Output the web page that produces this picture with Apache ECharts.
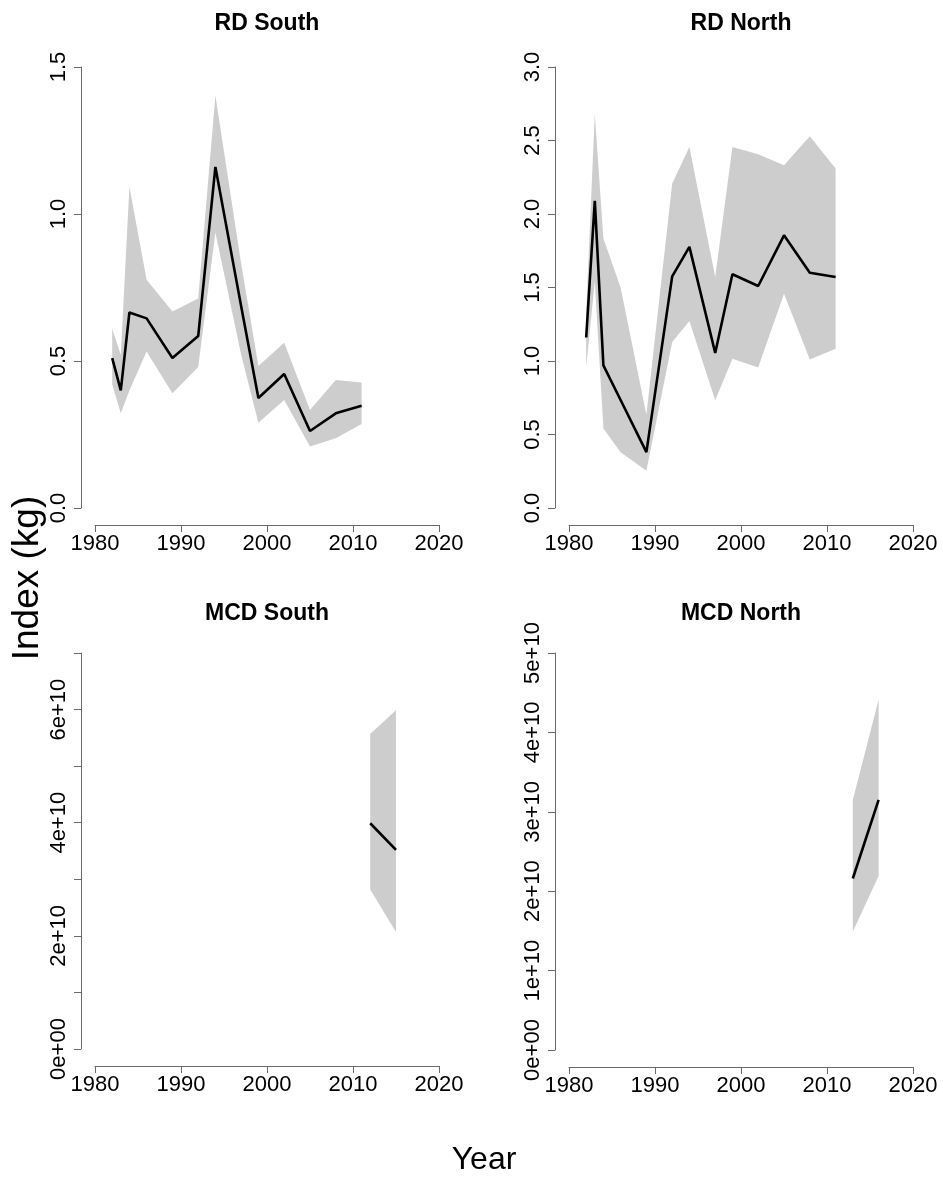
<!DOCTYPE html>
<html>
<head>
<meta charset="utf-8">
<script src="https://cdn.jsdelivr.net/npm/echarts@6/dist/echarts.min.js"></script>
<style>
html,body{margin:0;padding:0;background:#fff;}
#chart{width:943px;height:1180px;}
</style>
</head>
<body>
<div id="chart"></div>
<script>
// ---- data ----
const panelTitles = ["RD South", "RD North", "MCD South", "MCD North"];
const xTicks = [1980, 1990, 2000, 2010, 2020];

const rdsYears = [1982, 1983, 1984, 1986, 1989, 1992, 1994, 1997, 1999, 2002, 2005, 2008, 2011];
const rdsIndex = [0.51, 0.40, 0.665, 0.645, 0.51, 0.585, 1.16, 0.685, 0.374, 0.456, 0.262, 0.322, 0.348];
const rdsUpper = [0.61, 0.52, 1.093, 0.776, 0.668, 0.713, 1.403, 0.83, 0.483, 0.562, 0.333, 0.435, 0.427];
const rdsLower = [0.42, 0.322, 0.40, 0.532, 0.39, 0.48, 0.937, 0.52, 0.29, 0.367, 0.209, 0.237, 0.286];

const rdnYears = [1982, 1983, 1984, 1986, 1989, 1992, 1994, 1997, 1999, 2002, 2005, 2008, 2011];
const rdnIndex = [1.16, 2.09, 0.97, 0.735, 0.38, 1.576, 1.776, 1.055, 1.59, 1.51, 1.855, 1.60, 1.571];
const rdnUpper = [1.33, 2.68, 1.833, 1.50, 0.635, 2.207, 2.456, 1.571, 2.456, 2.406, 2.331, 2.529, 2.309];
const rdnLower = [0.96, 1.54, 0.54, 0.38, 0.254, 1.129, 1.272, 0.733, 1.016, 0.955, 1.458, 1.01, 1.084];

const mcdsYears = [2012, 2015];
const mcdsIndex = [3.99e10, 3.52e10];
const mcdsUpper = [5.57e10, 5.99e10];
const mcdsLower = [2.82e10, 2.07e10];

const mcdnYears = [2013, 2016];
const mcdnIndex = [2.16e10, 3.15e10];
const mcdnUpper = [3.15e10, 4.41e10];
const mcdnLower = [1.49e10, 2.19e10];

const yAxisSpecs = [
  {min: 0, max: 1.5, interval: 0.5, labelEvery: 1},
  {min: 0, max: 3.0, interval: 0.5, labelEvery: 1},
  {min: 0, max: 7e10, interval: 1e10, labelEvery: 2},
  {min: 0, max: 5e10, interval: 1e10, labelEvery: 1}
];

// ---- layout ----
const FONT = "'Liberation Sans', Arial, Helvetica, sans-serif";
const grids = [
  {left: 95, top: 67, width: 344, height: 441},
  {left: 569, top: 67, width: 344, height: 441},
  {left: 95, top: 653, width: 344, height: 396},
  {left: 569, top: 653, width: 344, height: 397}
];
const titleY = [24, 24, 614, 614];

const panels = [
  {years: rdsYears, idx: rdsIndex, up: rdsUpper, lo: rdsLower},
  {years: rdnYears, idx: rdnIndex, up: rdnUpper, lo: rdnLower},
  {years: mcdsYears, idx: mcdsIndex, up: mcdsUpper, lo: mcdsLower},
  {years: mcdnYears, idx: mcdnIndex, up: mcdnUpper, lo: mcdnLower}
];

function sciLabel(v) {
  if (v === 0) return "0e+00";
  const e = Math.floor(Math.log10(Math.abs(v)) + 1e-9);
  const m = Math.round(v / Math.pow(10, e));
  return m + "e+" + (e < 10 ? "0" + e : e);
}

const axisLineStyle = {color: '#6a6a6a', width: 1};

const xAxes = grids.map((g, i) => ({
  type: 'value', gridIndex: i, min: xTicks[0], max: xTicks[xTicks.length - 1], interval: 10,
  offset: 17,
  axisLine: {show: true, onZero: false, lineStyle: axisLineStyle},
  axisTick: {show: true, length: 7, lineStyle: axisLineStyle},
  axisLabel: {show: true, color: '#000', fontFamily: FONT, fontSize: 22, margin: 8,
    showMinLabel: true, showMaxLabel: true, formatter: v => String(Math.round(v))},
  splitLine: {show: false}
}));

const yAxes = yAxisSpecs.map((s, i) => ({
  type: 'value', gridIndex: i, min: s.min, max: s.max, interval: s.interval,
  offset: 14,
  axisLine: {show: true, onZero: false, lineStyle: axisLineStyle},
  axisTick: {show: true, length: 7, lineStyle: axisLineStyle},
  axisLabel: {
    show: true, color: '#000', fontFamily: FONT, fontSize: 22, margin: 11, rotate: 90,
    showMinLabel: true, showMaxLabel: true,
    formatter: i < 2 ? (v => v.toFixed(1)) :
      (v => (Math.round(v / s.interval) % s.labelEvery === 0) ? sciLabel(v) : '')
  },
  splitLine: {show: false}
}));

const series = [];
panels.forEach((p, i) => {
  const bandData = p.years.map((y, k) => [y, p.lo[k], p.up[k]]);
  const lineData = p.years.map((y, k) => [y, p.idx[k]]);
  series.push({
    type: 'custom', xAxisIndex: i, yAxisIndex: i, data: bandData, silent: true, z: 1,
    encode: {x: 0, y: [1, 2]},
    renderItem: function (params, api) {
      if (params.dataIndex !== 0) return null;
      const pts = [];
      for (let k = 0; k < bandData.length; k++) pts.push(api.coord([bandData[k][0], bandData[k][2]]));
      for (let k = bandData.length - 1; k >= 0; k--) pts.push(api.coord([bandData[k][0], bandData[k][1]]));
      return {type: 'polygon', shape: {points: pts}, style: {fill: '#cdcdcd', stroke: null}};
    }
  });
  series.push({
    type: 'line', xAxisIndex: i, yAxisIndex: i, data: lineData,
    symbol: 'none', lineStyle: {color: '#000', width: 2.6}, silent: true, z: 3
  });
});

const titleGraphics = panelTitles.map((t, i) => ({
  type: 'text', x: grids[i].left + grids[i].width / 2, y: titleY[i],
  style: {text: t, font: 'bold 23px ' + FONT, fill: '#000', align: 'center', verticalAlign: 'middle'}
}));

const option = {
  animation: false,
  backgroundColor: '#fff',
  grid: grids.map(g => Object.assign({containLabel: false}, g)),
  xAxis: xAxes,
  yAxis: yAxes,
  series: series,
  graphic: titleGraphics.concat([
    {type: 'text', x: 28, y: 578, rotation: Math.PI / 2,
      style: {text: 'Index (kg)', font: '37px ' + FONT, fill: '#000', align: 'center', verticalAlign: 'middle'}},
    {type: 'text', x: 484, y: 1160,
      style: {text: 'Year', font: '32px ' + FONT, fill: '#000', align: 'center', verticalAlign: 'middle'}}
  ])
};

const chart = echarts.init(document.getElementById('chart'), null, {renderer: 'canvas'});
chart.setOption(option);
</script>
</body>
</html>
